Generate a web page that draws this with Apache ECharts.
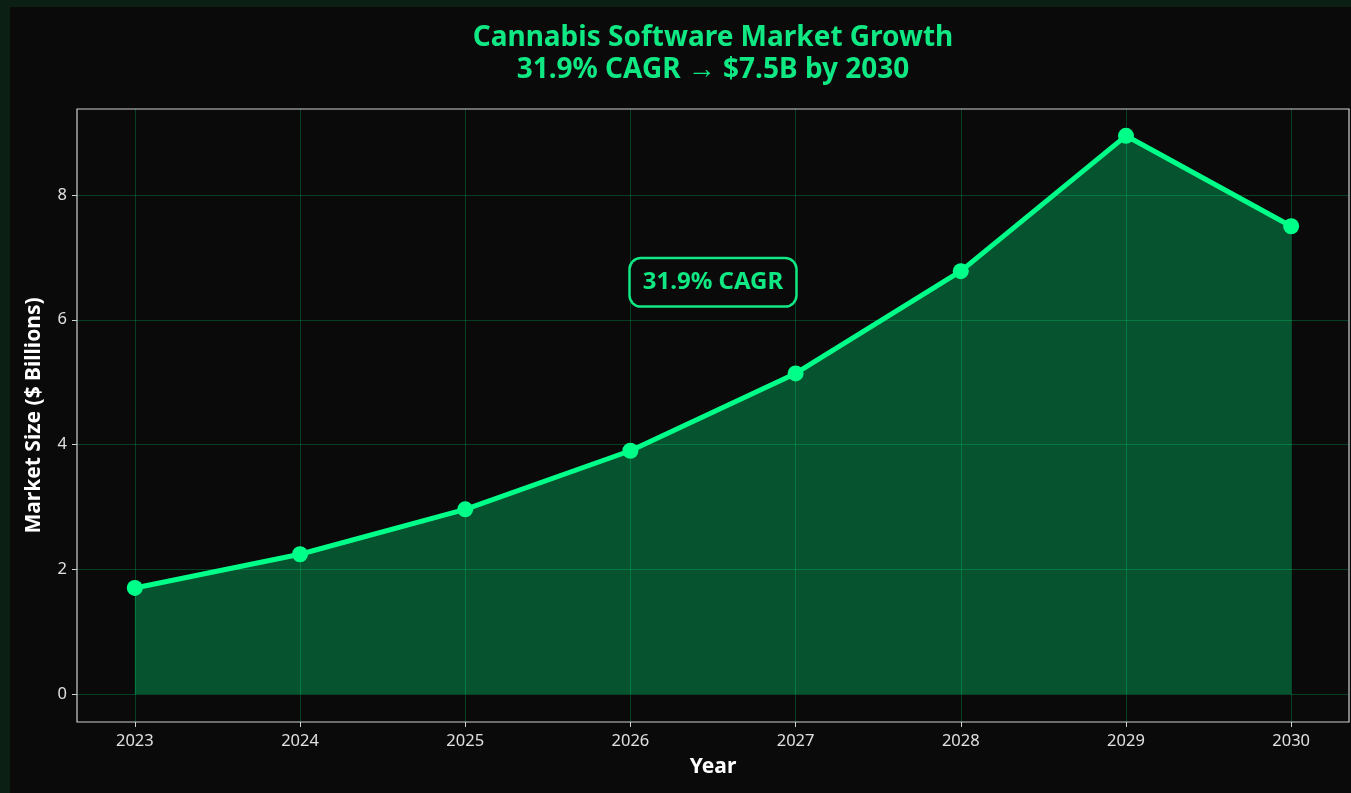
<!DOCTYPE html>
<html>
<head>
<meta charset="utf-8">
<script src="https://cdn.jsdelivr.net/npm/echarts@6/dist/echarts.min.js"></script>
<style>
  html, body { margin: 0; padding: 0; width: 1351px; height: 793px; background: #0b1f14; overflow: hidden; }
  #chart { position: absolute; left: 10px; top: 7px; width: 1341px; height: 786px; background: #0a0a0a; }
</style>
</head>
<body>
<div id="chart"></div>
<script>
const years = [2023, 2024, 2025, 2026, 2027, 2028, 2029, 2030];
const marketSize = [1.70, 2.24, 2.96, 3.90, 5.14, 6.78, 8.95, 7.50];
const yTicks = [0, 2, 4, 6, 8];
const titleLines = ['Cannabis Software Market Growth', '31.9% CAGR → $7.5B by 2030'];
const annotationText = '31.9% CAGR';
const annotationAt = [2026.5, 6.6];

const GREEN = '#00ff88';
const TITLE_GREEN = '#10e883';
const FONT = '"Noto Sans", "Open Sans", sans-serif';

const chart = echarts.init(document.getElementById('chart'), null, { renderer: 'canvas' });

chart.setOption({
  backgroundColor: '#0a0a0a',
  animation: false,
  title: {
    text: titleLines.join('\n'),
    left: 698,
    top: 10,
    textAlign: 'center',
    textStyle: {
      color: TITLE_GREEN,
      fontFamily: FONT,
      fontSize: 28,
      fontWeight: 'bold',
      lineHeight: 32
    }
  },
  grid: {
    left: 67,
    right: 2,
    top: 102,
    bottom: 71,
    show: true,
    backgroundColor: '#0a0a0a',
    borderColor: '#d0d0d0',
    borderWidth: 1.2,
    containLabel: false
  },
  xAxis: {
    type: 'value',
    min: 2022.65,
    max: 2030.35,
    name: 'Year',
    nameLocation: 'middle',
    nameGap: 35,
    nameTextStyle: { color: '#ffffff', fontFamily: FONT, fontSize: 21, fontWeight: 'bold' },
    axisLine: { show: false, onZero: false },
    axisTick: { show: true, length: 5, customValues: years, lineStyle: { color: '#d0d0d0', width: 1 } },
    axisLabel: { customValues: years, color: '#e0e0e0', fontFamily: FONT, fontSize: 16.5, margin: 11, formatter: v => String(v) },
    splitLine: { show: true, lineStyle: { color: 'rgba(0,255,136,0.22)', width: 1 } }
  },
  yAxis: {
    type: 'value',
    min: -0.45,
    max: 9.38,
    name: 'Market Size ($ Billions)',
    nameLocation: 'middle',
    nameGap: 32,
    nameRotate: 90,
    nameTextStyle: { color: '#ffffff', fontFamily: FONT, fontSize: 21, fontWeight: 'bold' },
    axisLine: { show: false, onZero: false },
    axisTick: { show: true, length: 5, customValues: yTicks, lineStyle: { color: '#d0d0d0', width: 1 } },
    axisLabel: { customValues: yTicks, color: '#e0e0e0', fontFamily: FONT, fontSize: 16.5, margin: 10 },
    splitLine: { show: true, lineStyle: { color: 'rgba(0,255,136,0.22)', width: 1 } }
  },
  series: [{
    type: 'line',
    data: years.map((y, i) => [y, marketSize[i]]),
    symbol: 'circle',
    symbolSize: 16,
    showSymbol: true,
    lineStyle: { color: GREEN, width: 5 },
    itemStyle: { color: GREEN },
    areaStyle: { color: GREEN, opacity: 0.3, origin: 0 },
    z: 3,
    markPoint: {
      symbol: 'circle',
      symbolSize: 0,
      silent: true,
      data: [{ coord: annotationAt, value: annotationText }],
      label: {
        show: true,
        position: 'inside',
        formatter: annotationText,
        color: TITLE_GREEN,
        fontFamily: FONT,
        fontSize: 24,
        fontWeight: 'bold',
        backgroundColor: '#0a0a0a',
        borderColor: TITLE_GREEN,
        borderWidth: 2.5,
        borderRadius: 10,
        padding: [12, 12, 10, 12]
      }
    }
  }]
});
</script>
</body>
</html>
